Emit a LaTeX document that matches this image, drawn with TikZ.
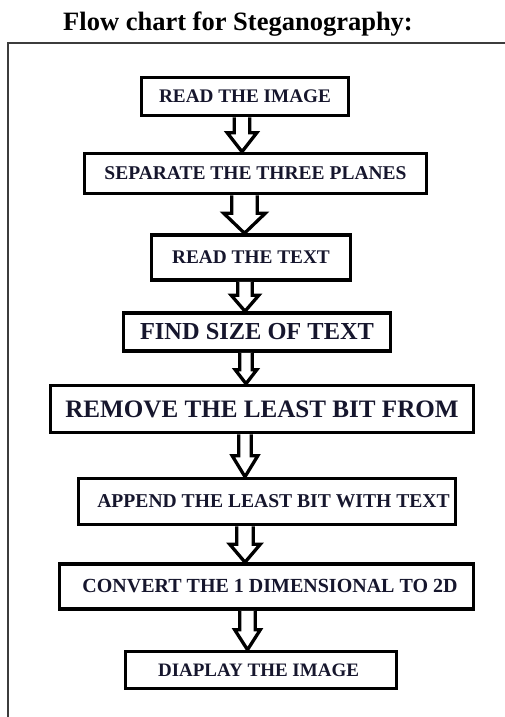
\documentclass[tikz,border=0pt]{standalone}
\usepackage{fontspec}
\setmainfont{Liberation Serif}
\usetikzlibrary{calc}
\definecolor{txtc}{RGB}{22,22,45}
\definecolor{framec}{RGB}{60,60,60}
\newcommand{\fsz}[1]{\fontsize{#1pt}{#1pt}\selectfont\bfseries}
% block arrow: from node, to node, x centre, shaft half, head half, head length (all px)
\newcommand{\blkarrow}[6]{%
  \path[blockarrow] let \p1=(#1.south), \p2=(#2.north) in
    ({(#3-#4)*1pt},\y1) -- ({(#3-#4)*1pt},{\y2+#6pt}) -- ({(#3-#5)*1pt},{\y2+#6pt})
    -- ({#3pt},\y2) -- ({(#3+#5)*1pt},{\y2+#6pt}) -- ({(#3+#4)*1pt},{\y2+#6pt})
    -- ({(#3+#4)*1pt},\y1);}
\begin{document}
\begin{tikzpicture}[x=1pt,y=-1pt,
  box/.style={draw=black, line width=3.5pt, fill=white, inner sep=0pt, text=txtc},
  blockarrow/.style={draw=black, fill=white, line width=3.3pt, line join=miter, miter limit=4},
  frame/.style={draw=framec, line width=1.4pt}]
\useasboundingbox (0,0) rectangle (505,717);
\draw[frame] (8,717) |- (505,43);
\node[anchor=base, font=\fsz{26.5}, text=black] (title) at (238,31) {Flow chart for Steganography:};
\node[box, minimum width=207, minimum height=38, font=\fsz{19.2}] (b1) at (245,96.5) {READ THE IMAGE};
\node[box, minimum width=342, minimum height=40, font=\fsz{19.5}] (b2) at (255.5,173.5) {SEPARATE THE THREE PLANES};
\node[box, minimum width=199, minimum height=45, font=\fsz{19.3}] (b3) at (251,257.5) {READ THE TEXT};
\node[box, minimum width=267, minimum height=38, font=\fsz{24.4}] (b4) at (257,332) {FIND SIZE OF TEXT};
\node[box, minimum width=423, minimum height=47, font=\fsz{25.1}] (b5) at (262,409) {REMOVE THE LEAST BIT FROM};
\node[box, minimum width=377, minimum height=46, font=\fsz{19.6}] (b6) at (267,501.5) {\hspace*{13pt}APPEND THE LEAST BIT WITH TEXT};
\node[box, minimum width=414, minimum height=45, font=\fsz{20}] (b7) at (266.5,586.5) {\hspace*{7pt}CONVERT THE 1 DIMENSIONAL TO 2D};
\node[box, minimum width=271, minimum height=37, font=\fsz{19}] (b8) at (261,670) {DIAPLAY THE IMAGE\hspace*{5pt}};
\blkarrow{b1}{b2}{242}{7.8}{14.8}{19}
\blkarrow{b2}{b3}{244.5}{12.8}{20.8}{20}
\blkarrow{b3}{b4}{245}{7.3}{13.8}{16}
\blkarrow{b4}{b5}{246}{6.3}{10.8}{14}
\blkarrow{b5}{b6}{245}{6.3}{12.8}{21}
\blkarrow{b6}{b7}{245}{8.3}{15.3}{18}
\blkarrow{b7}{b8}{247.5}{7.8}{12.8}{20}
\end{tikzpicture}
\end{document}
